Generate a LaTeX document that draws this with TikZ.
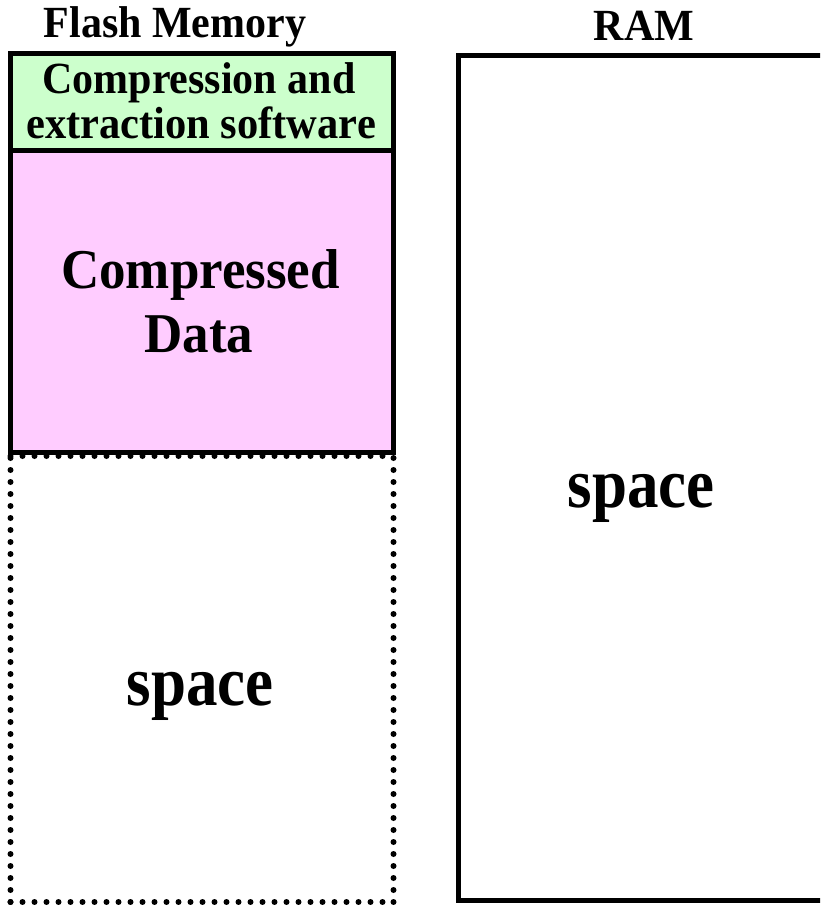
\documentclass[tikz,border=0pt]{standalone}
\usepackage{fontspec}
\setmainfont{Liberation Serif}
\begin{document}
\begin{tikzpicture}[x=1pt,y=-1pt,
  solidbox/.style={draw=black,line width=5.5pt},
  dotbox/.style={draw=black,line width=6pt,line cap=round,dash pattern=on 0pt off 12pt},
  lbl/.style={inner sep=0pt,anchor=base,font=\bfseries},
]
\useasboundingbox (0,0) rectangle (820,905);
\clip (0,0) rectangle (820,905);
\definecolor{softgreen}{HTML}{CCFFCC}
\definecolor{softpink}{HTML}{FFCCFF}
% dotted lower part of flash
\draw[dotbox] (10.5,902) -- (10.5,456);
\draw[dotbox] (393.5,902) -- (393.5,456);
\draw[dotbox] (10.5,902) -- (393.5,902);
\draw[dotbox] (10.5,456) -- (393.5,456);
% flash solid parts
\path[fill=softgreen] (10.5,53.5) rectangle (393.5,150.5);
\path[fill=softpink] (10.5,150.5) rectangle (393.5,452.5);
\draw[solidbox] (10.5,53.5) rectangle (393.5,150.5);
\draw[solidbox] (10.5,150.5) rectangle (393.5,452.5);
% RAM
\draw[solidbox] (458.5,55.5) rectangle (832,900.5);
% labels
\node[lbl] (flash) at (175,37) {\fontsize{42}{44}\selectfont\scalebox{1}[1.06]{Flash Memory}};
\node[lbl] (ram) at (644,40) {\fontsize{42}{44}\selectfont\scalebox{1}[1.06]{RAM}};
\node[lbl] (sw1) at (199,93) {\fontsize{42}{44}\selectfont\scalebox{1}[1.06]{Compression and}};
\node[lbl] (sw2) at (201,138) {\fontsize{42.5}{44}\selectfont\scalebox{1}[1.06]{extraction software}};
\node[lbl] (cd1) at (200.5,288) {\fontsize{53}{56}\selectfont\scalebox{1}[1.06]{Compressed}};
\node[lbl] (cd2) at (199,352) {\fontsize{53}{56}\selectfont\scalebox{1}[1.06]{Data}};
\node[lbl] (fsp) at (200,705) {\fontsize{63}{66}\selectfont\scalebox{1}[1.12]{space}};
\node[lbl] (rsp) at (641,507) {\fontsize{63}{66}\selectfont\scalebox{1}[1.12]{space}};
\end{tikzpicture}
\end{document}
